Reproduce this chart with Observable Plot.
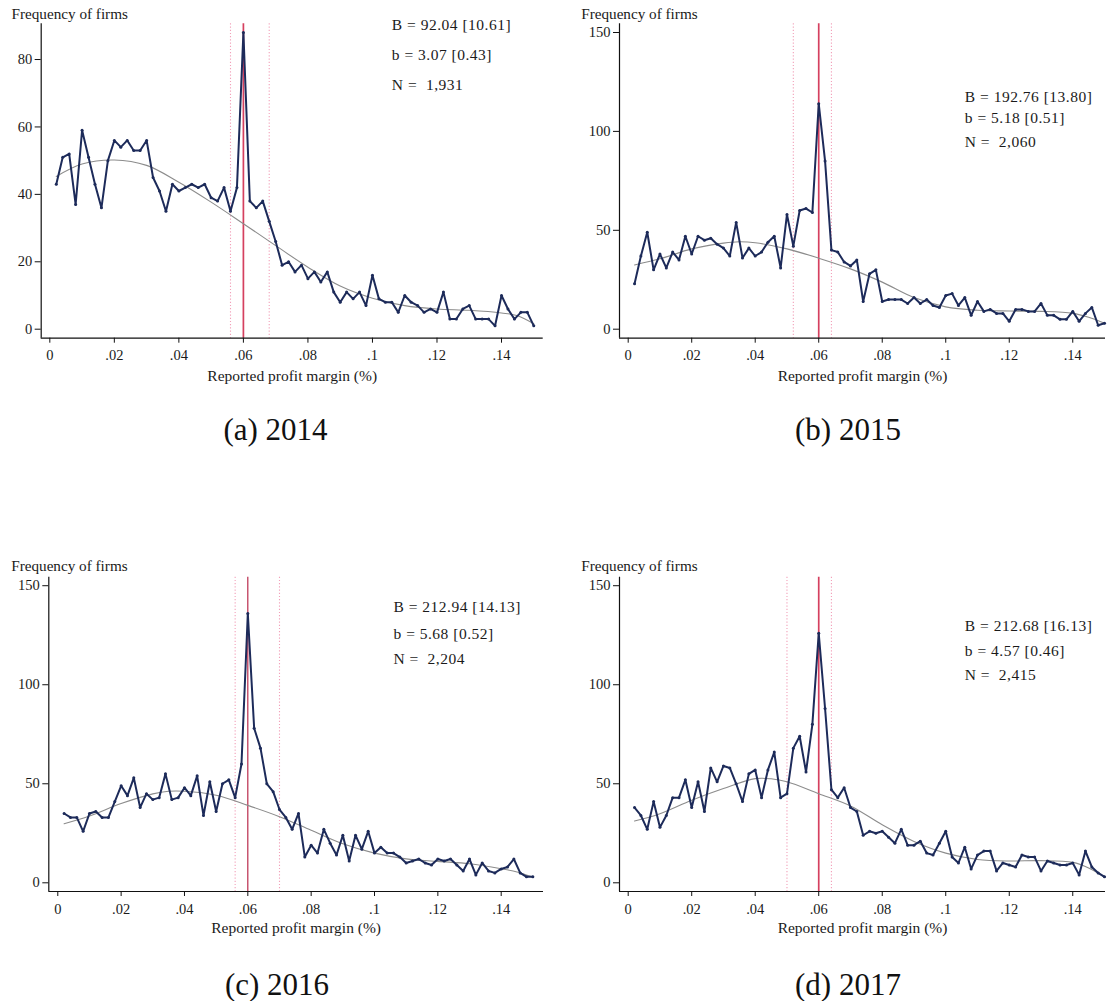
<!DOCTYPE html>
<html>
<head>
<meta charset="utf-8">
<script src="https://cdn.jsdelivr.net/npm/d3@7"></script>
<script src="https://cdn.jsdelivr.net/npm/@observablehq/plot@0.6"></script>
<style>
  body { margin: 0; background: #fff; }
  #fig { position: relative; width: 1113px; height: 1001px; font-family: "Liberation Serif", serif; overflow: hidden; }
  .panel { position: absolute; }
  .cap { position: absolute; font-size: 31px; color: #111; transform: translate(-50%, -50%); white-space: nowrap; }
  svg text { white-space: pre; }
  svg .note text { letter-spacing: 0.5px; }
</style>
</head>
<body>
<div id="fig"></div>
<script>
// Bin midpoints of reported profit margin
const margins = [
  0.002, 0.004, 0.006, 0.008, 0.010, 0.012, 0.014, 0.016, 0.018, 0.020,
  0.022, 0.024, 0.026, 0.028, 0.030, 0.032, 0.034, 0.036, 0.038, 0.040,
  0.042, 0.044, 0.046, 0.048, 0.050, 0.052, 0.054, 0.056, 0.058, 0.060,
  0.062, 0.064, 0.066, 0.068, 0.070, 0.072, 0.074, 0.076, 0.078, 0.080,
  0.082, 0.084, 0.086, 0.088, 0.090, 0.092, 0.094, 0.096, 0.098, 0.100,
  0.102, 0.104, 0.106, 0.108, 0.110, 0.112, 0.114, 0.116, 0.118, 0.120,
  0.122, 0.124, 0.126, 0.128, 0.130, 0.132, 0.134, 0.136, 0.138, 0.140,
  0.142, 0.144, 0.146, 0.148, 0.150
];

// Frequency of firms per bin
const freq2014 = [43,51,52,37,59,51,43,36,50,56, 54,56,53,53,56,45,41,35,43,41, 42,43,42,43,39,38,42,35,42,88,
  38,36,38,32,26,19,20,17,19,15, 17,14,17,11,8,11,9,11,7,16, 9,8,8,5,10,8,7,5,6,5, 11,3,3,6,7,3,3,3,1,10, 6,3,5,5,1];
const freq2015 = [23,37,49,30,38,31,39,35,47,38, 47,45,46,43,41,37,54,36,41,37, 39,44,47,31,58,42,60,61,59,114,
  85,40,39,34,32,35,14,28,30,14, 15,15,15,13,16,13,15,12,11,17, 18,12,16,7,14,9,10,8,8,4, 10,10,9,9,13,7,7,5,5,9, 4,8,11,2,3];
const freq2016 = [35,33,33,26,35,36,33,33,41,49, 44,53,38,45,42,43,55,42,43,48, 44,54,34,51,36,50,52,43,60,136,
  78,68,50,46,37,33,27,35,13,19, 15,27,20,14,24,11,24,17,26,15, 18,15,15,13,10,11,12,10,9,12, 11,12,9,6,12,4,10,6,5,7, 8,12,5,3,3];
const freq2017 = [38,34,27,41,28,34,43,43,52,38, 51,36,58,51,59,58,50,41,55,57, 43,57,66,43,45,68,74,56,80,126,
  88,47,43,48,38,36,24,26,25,26, 23,20,27,19,19,21,15,14,20,26, 13,10,18,7,14,16,16,6,10,9, 8,14,13,13,6,11,10,9,9,10, 4,16,8,5,3];

// Counterfactual polynomial fit, sampled along the margin axis
const fitX2014 = [0.002, 0.01, 0.02, 0.03, 0.04, 0.05, 0.06, 0.07, 0.08, 0.09, 0.10, 0.11, 0.12, 0.13, 0.14, 0.145, 0.15];
const fitY2014 = [45.3, 49.0, 50.2, 48.6, 43.6, 37.7, 31.3, 24.8, 18.4, 12.8, 9.2, 7.0, 6.0, 5.6, 4.8, 4.0, 1.6];
const fitX2015 = [0.002, 0.01, 0.02, 0.03, 0.035, 0.04, 0.05, 0.06, 0.07, 0.08, 0.09, 0.10, 0.11, 0.12, 0.13, 0.14, 0.145, 0.15];
const fitY2015 = [32.5, 35.6, 40.6, 43.5, 44.2, 43.7, 40.6, 35.9, 30.5, 23.8, 16.0, 11.3, 9.6, 9.2, 9.0, 8.0, 6.0, 3.0];
const fitX2016 = [0.002, 0.01, 0.02, 0.03, 0.035, 0.04, 0.05, 0.06, 0.07, 0.08, 0.09, 0.10, 0.11, 0.12, 0.13, 0.14, 0.145, 0.15];
const fitY2016 = [29.8, 33.7, 40.0, 44.9, 46.2, 46.2, 44.2, 39.1, 33.4, 26.5, 19.7, 15.0, 12.1, 10.8, 9.6, 7.1, 5.5, 2.9];
const fitX2017 = [0.002, 0.01, 0.02, 0.03, 0.04, 0.045, 0.05, 0.06, 0.07, 0.08, 0.09, 0.10, 0.11, 0.12, 0.13, 0.14, 0.145, 0.15];
const fitY2017 = [31.2, 34.9, 41.7, 47.6, 52.6, 52.5, 51.0, 45.0, 38.8, 29.3, 20.9, 15.0, 11.8, 11.0, 11.2, 10.3, 7.5, 2.9];

// Notch threshold and excluded window bounds
const threshold = 0.06;
const window2014 = [0.056, 0.068];
const window2015 = [0.052, 0.064];
const window2016 = [0.056, 0.070];
const window2017 = [0.050, 0.064];

// Bunching estimates
const notes2014 = ["B = 92.04 [10.61]", "b = 3.07 [0.43]", "N =  1,931"];
const notes2015 = ["B = 192.76 [13.80]", "b = 5.18 [0.51]", "N =  2,060"];
const notes2016 = ["B = 212.94 [14.13]", "b = 5.68 [0.52]", "N =  2,204"];
const notes2017 = ["B = 212.68 [16.13]", "b = 4.57 [0.46]", "N =  2,415"];
const noteY2014 = [90.1, 81.4, 72.5];
const noteY2015 = [117.3, 106.7, 94.7];
const noteY2016 = [139.4, 125.6, 112.8];
const noteY2017 = [129.8, 117.0, 104.9];
const noteX = 0.106;

// Axis ticks
const xTicks = [0, 0.02, 0.04, 0.06, 0.08, 0.1, 0.12, 0.14];
const xTickLabels = ["0", ".02", ".04", ".06", ".08", ".1", ".12", ".14"];
const yTicks2014 = [0, 20, 40, 60, 80];
const yTicksLater = [0, 50, 100, 150];

const captions = ["(a) 2014", "(b) 2015", "(c) 2016", "(d) 2017"];
const yTitle = "Frequency of firms";
const xTitle = "Reported profit margin (%)";

const NAVY = "#1d2b5a";
const FONT = "Liberation Serif, serif";

const panels = [
  { freq: freq2014, fitX: fitX2014, fitY: fitY2014, win: window2014, notes: notes2014, noteY: noteY2014, yTicks: yTicks2014,
    left: 0, top: 0, width: 556, height: 390, mL: 40.7, mR: 13.3, mT: 23.3, mB: 52.3,
    xDomain: [-0.00267, 0.15292], yDomain: [-2.67, 90.6], titleDx: -29.7, titleDy: -5.3, xTitleDy: 38.3,
    red: "#d5405f", redW: 1.7, cap: captions[0], capX: 275.5, capY: 430 },
  { freq: freq2015, fitX: fitX2015, fitY: fitY2015, win: window2015, notes: notes2015, noteY: noteY2015, yTicks: yTicksLater,
    left: 556, top: 0, width: 557, height: 390, mL: 63, mR: 8, mT: 23.3, mB: 52.3,
    xDomain: [-0.00274, 0.15031], yDomain: [-4.55, 154.4], titleDx: -38.3, titleDy: -5.3, xTitleDy: 38.3,
    red: "#d5405f", redW: 1.7, cap: captions[1], capX: 848, capY: 430 },
  { freq: freq2016, fitX: fitX2016, fitY: fitY2016, win: window2016, notes: notes2016, noteY: noteY2016, yTicks: yTicksLater,
    left: 0, top: 555, width: 556, height: 390, mL: 48.3, mR: 13, mT: 21.7, mB: 54,
    xDomain: [-0.00284, 0.15336], yDomain: [-4.39, 154.3], titleDx: -37.6, titleDy: -6.7, xTitleDy: 36.5,
    red: "#b3183c", redW: 1.1, cap: captions[2], capX: 277, capY: 985 },
  { freq: freq2017, fitX: fitX2017, fitY: fitY2017, win: window2017, notes: notes2017, noteY: noteY2017, yTicks: yTicksLater,
    left: 556, top: 555, width: 557, height: 390, mL: 63, mR: 8, mT: 21.7, mB: 54,
    xDomain: [-0.00274, 0.15031], yDomain: [-4.39, 154.3], titleDx: -38.3, titleDy: -6.7, xTitleDy: 36.5,
    red: "#d5405f", redW: 1.7, cap: captions[3], capX: 848, capY: 985 }
];

const fig = document.getElementById("fig");

for (const p of panels) {
  const rows = margins.map((m, i) => ({m, n: p.freq[i]}));
  const fit = p.fitX.map((m, i) => ({m, n: p.fitY[i]}));
  const notes = p.notes.map((t, i) => ({t, y: p.noteY[i]}));

  const chart = Plot.plot({
    width: p.width,
    height: p.height,
    marginLeft: p.mL,
    marginRight: p.mR,
    marginTop: p.mT,
    marginBottom: p.mB,
    style: {fontFamily: FONT, fontSize: "14.5px", color: "#1a1a1a", background: "white", overflow: "visible"},
    x: {domain: p.xDomain},
    y: {domain: p.yDomain},
    marks: [
      Plot.ruleX(p.win, {stroke: "#f2a0b9", strokeWidth: 1.1, strokeDasharray: "1.2,2"}),
      Plot.ruleX([threshold], {stroke: p.red, strokeWidth: p.redW}),
      Plot.line(fit, {x: "m", y: "n", stroke: "#8c8c8c", strokeWidth: 1.1, curve: "catmull-rom"}),
      Plot.line(rows, {x: "m", y: "n", stroke: NAVY, strokeWidth: 2, strokeLinejoin: "round"}),
      Plot.dot(rows, {x: "m", y: "n", r: 1.5, fill: NAVY}),
      Plot.ruleX([p.xDomain[0]], {stroke: "#111", strokeWidth: 1.2}),
      Plot.ruleY([p.yDomain[0]], {stroke: "#111", strokeWidth: 1.2}),
      Plot.axisX(xTicks, {tickSize: 5, tickPadding: 7, tickFormat: d => xTickLabels[xTicks.indexOf(d)], label: null, stroke: "#111"}),
      Plot.axisY(p.yTicks, {tickSize: 6, tickPadding: 3, label: null, stroke: "#111"}),
      Plot.text([yTitle], {text: d => d, frameAnchor: "top-left", dx: p.titleDx, dy: p.titleDy, textAnchor: "start", lineAnchor: "bottom", fontSize: 15.2}),
      Plot.text([xTitle], {text: d => d, frameAnchor: "bottom", dy: p.xTitleDy, lineAnchor: "middle", fontSize: 15.5}),
      Plot.text(notes, {x: () => noteX, y: "y", text: "t", textAnchor: "start", lineAnchor: "middle", fontSize: 15.5, className: "note"})
    ]
  });

  const holder = document.createElement("div");
  holder.className = "panel";
  holder.style.left = p.left + "px";
  holder.style.top = p.top + "px";
  holder.appendChild(chart);
  fig.appendChild(holder);

  const cap = document.createElement("div");
  cap.className = "cap";
  cap.style.left = p.capX + "px";
  cap.style.top = p.capY + "px";
  cap.textContent = p.cap;
  fig.appendChild(cap);
}
</script>
</body>
</html>
